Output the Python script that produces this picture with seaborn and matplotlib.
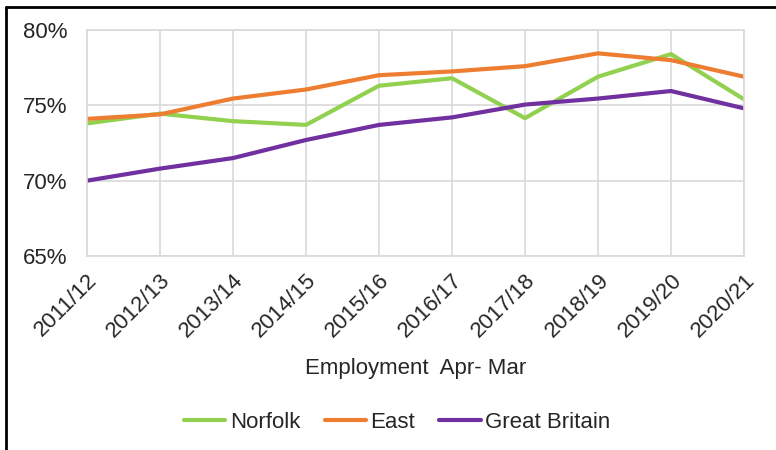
import matplotlib
matplotlib.use("Agg")
import matplotlib.pyplot as plt
import matplotlib.ticker as ticker
from matplotlib.lines import Line2D
import pandas as pd
import seaborn as sns

# Employment rate, Apr-Mar years
years = ['2011/12', '2012/13', '2013/14', '2014/15', '2015/16',
         '2016/17', '2017/18', '2018/19', '2019/20', '2020/21']
norfolk = [73.8, 74.45, 73.95, 73.7, 76.3, 76.8, 74.15, 76.9, 78.4, 75.4]
east = [74.1, 74.4, 75.45, 76.05, 77.0, 77.25, 77.6, 78.45, 78.0, 76.9]
great_britain = [70.0, 70.8, 71.5, 72.7, 73.7, 74.2, 75.05, 75.45, 75.95, 74.8]

series = ['Norfolk', 'East', 'Great Britain']
colors = ['#92d050', '#ed7d31', '#7030a0']

df = pd.DataFrame({'year': years, 'Norfolk': norfolk, 'East': east,
                   'Great Britain': great_britain})
long_df = df.melt(id_vars='year', var_name='area', value_name='rate')

sns.set_style('white')
plt.rcParams['font.family'] = ['Liberation Sans', 'DejaVu Sans']

fig = plt.figure(figsize=(7.76, 4.5), dpi=100)
ax = fig.add_axes([87 / 776, 1 - 256 / 450, (744 - 87) / 776, (256 - 30) / 450])

sns.lineplot(data=long_df, x='year', y='rate', hue='area', hue_order=series,
             palette=colors, linewidth=3, legend=False, ax=ax, sort=False)

ax.set_ylim(65, 80)
ax.set_xlim(0, len(years) - 1)
ax.yaxis.set_major_locator(ticker.MultipleLocator(5))
ax.yaxis.set_major_formatter(ticker.FuncFormatter(lambda v, _: f"{v:.0f}%"))
ax.grid(True, color='#d9d9d9', linewidth=1.2)
ax.set_axisbelow(True)
for s in ax.spines.values():
    s.set_color('#d9d9d9')
    s.set_linewidth(1.2)

ax.tick_params(axis='y', labelsize=16, length=0, pad=14)
ax.tick_params(axis='x', labelsize=16, length=0, pad=10)
plt.setp(ax.get_xticklabels(), rotation=45, ha='right', rotation_mode='anchor')
ax.set_ylabel('')
ax.set_xlabel('Employment  Apr- Mar', fontsize=16, labelpad=12)

handles = [Line2D([0], [0], color=c, linewidth=3) for c in colors]
fig.legend(handles, series, loc='center', bbox_to_anchor=(0.512, 1 - 422 / 450),
           ncol=3, frameon=False, fontsize=16, handlelength=1.85,
           handletextpad=0.2, columnspacing=1.1)

# outer frame (left and top edges visible)
fig.add_artist(Line2D([6 / 776, 6 / 776], [0, 1 - 7 / 450], color='black',
                      linewidth=2, transform=fig.transFigure))
fig.add_artist(Line2D([6 / 776, 1], [1 - 7 / 450, 1 - 7 / 450], color='black',
                      linewidth=2, transform=fig.transFigure))

fig.savefig('out.png', dpi=100)
